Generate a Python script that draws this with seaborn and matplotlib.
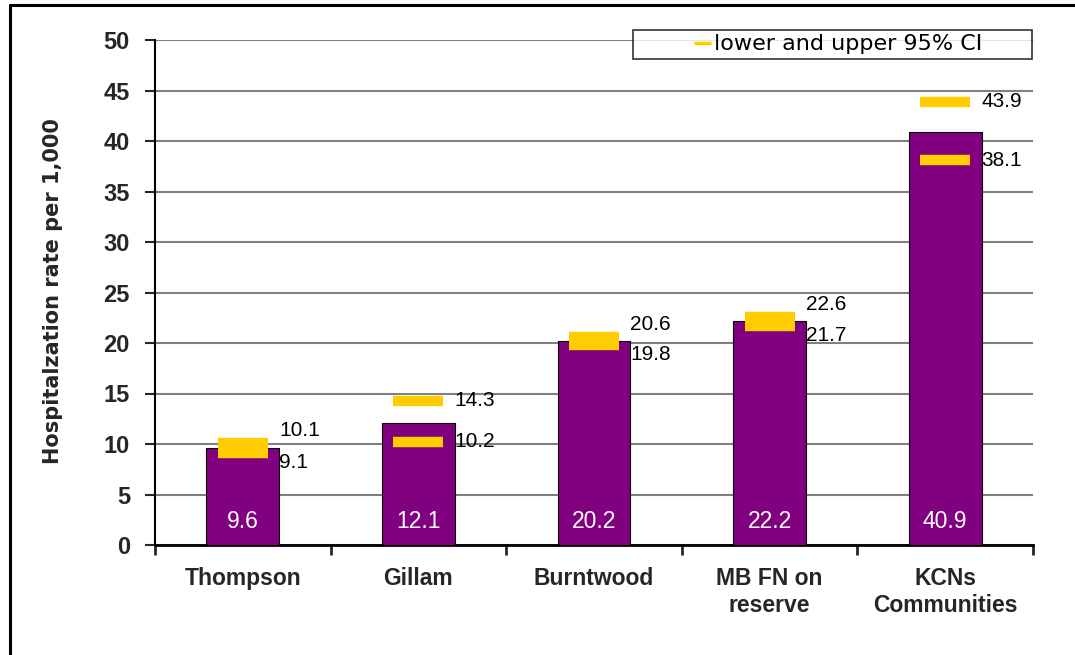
import matplotlib
matplotlib.use("Agg")
import matplotlib.pyplot as plt
import seaborn as sns
import pandas as pd
from matplotlib.lines import Line2D
from matplotlib.legend_handler import HandlerBase

# ---- data ----
categories = ["Thompson", "Gillam", "Burntwood", "MB FN on\nreserve", "KCNs\nCommunities"]
rates = [9.6, 12.1, 20.2, 22.2, 40.9]
ci_lower = [9.1, 10.2, 19.8, 21.7, 38.1]
ci_upper = [10.1, 14.3, 20.6, 22.6, 43.9]
y_ticks = [0, 5, 10, 15, 20, 25, 30, 35, 40, 45, 50]
y_label = "Hospitalzation rate per 1,000"
legend_label = "lower and upper 95% CI"

df = pd.DataFrame({"community": categories, "rate": rates})

sns.set_style("white")
plt.rcParams["font.family"] = ["DejaVu Sans"]
lib = ["Liberation Sans", "DejaVu Sans"]

PURPLE = "#800080"
GOLD = "#FFCC00"

fig = plt.figure(figsize=(10.75, 6.55), dpi=100)
ax = fig.add_axes([155/1075, 110/655, 878/1075, 505/655])

sns.barplot(data=df, x="community", y="rate", color=PURPLE, saturation=1,
            width=0.415, edgecolor="black", linewidth=0.8, ax=ax, zorder=3)

xpos = list(range(len(categories)))
ax.plot(xpos, ci_upper, linestyle="none", marker="_", ms=36, mew=7.5,
        color=GOLD, zorder=4)
ax.plot(xpos, ci_lower, linestyle="none", marker="_", ms=36, mew=7.5,
        color=GOLD, zorder=4)

# CI value labels
for i, (lo, hi) in enumerate(zip(ci_lower, ci_upper)):
    close = (hi - lo) < 1.5
    ax.annotate(f"{hi:.1f}", (i, hi), xytext=(26, 2 if close else 0),
                textcoords="offset points", ha="left",
                va="bottom" if close else "center",
                fontsize=15, family=lib, color="black", zorder=5)
    ax.annotate(f"{lo:.1f}", (i, lo), xytext=(26, 0), textcoords="offset points",
                ha="left", va="top" if close else "center",
                fontsize=15, family=lib, color="black", zorder=5)

# bar value labels
for i, v in enumerate(rates):
    ax.annotate(f"{v:.1f}", (i, 0), xytext=(0, 12), textcoords="offset points",
                ha="center", va="baseline", color="white", fontsize=16.5,
                family=lib, zorder=5)

ax.set_ylim(0, 50)
ax.set_xlim(-0.5, len(categories) - 0.5)
ax.set_yticks(y_ticks)
ax.yaxis.grid(True, color="#808080", linewidth=1.5, zorder=0)
ax.set_axisbelow(True)

for s in ["top", "right"]:
    ax.spines[s].set_visible(False)
ax.spines["left"].set_linewidth(1.5)
ax.spines["bottom"].set_linewidth(2)
ax.spines["left"].set_color("black")
ax.spines["bottom"].set_color("black")

ax.tick_params(axis="y", direction="out", length=7, width=1.5, pad=11, left=True)
for t in ax.get_yticklabels():
    t.set_fontfamily(lib)
    t.set_fontweight("bold")
    t.set_fontsize(17)

ax.set_xticks(xpos)
ax.set_xticklabels(categories, linespacing=1.2)
ax.set_xticks([p - 0.5 for p in xpos] + [len(categories) - 0.5], minor=True)
ax.tick_params(axis="x", which="major", length=0, pad=16)
ax.tick_params(axis="x", which="minor", direction="out", length=7, width=2, bottom=True)
for t in ax.get_xticklabels():
    t.set_fontfamily(lib)
    t.set_fontweight("bold")
    t.set_fontsize(16.5)
    t.set_verticalalignment("top")
ax.set_xlabel("")

ax.set_ylabel(y_label, fontsize=15, fontweight="bold", family=["DejaVu Sans"])
ax.yaxis.set_label_coords(-0.105, 0.503)


class RightDash(HandlerBase):
    def create_artists(self, legend, orig_handle, xdescent, ydescent, width,
                       height, fontsize, trans):
        y = height / 2 - ydescent
        x1 = width - xdescent
        x0 = x1 - 0.75 * fontsize
        ln = Line2D([x0, x1], [y, y], color=orig_handle.get_color(),
                    lw=orig_handle.get_linewidth(), solid_capstyle="butt",
                    transform=trans)
        return [ln]


handle = Line2D([], [], color=GOLD, lw=2.5)
leg = ax.legend([handle], [legend_label], handler_map={Line2D: RightDash()},
                loc="upper left", mode="expand",
                bbox_to_anchor=((633-155)/878, (545-64)/505, (1032-633)/878, 34/505),
                fontsize=16, frameon=True, fancybox=False, borderpad=0.2,
                handlelength=3.3, handletextpad=0.15, borderaxespad=0)
leg.get_frame().set_edgecolor("black")
leg.get_frame().set_linewidth(1.2)
for t in leg.get_texts():
    t.set_color("black")

# outer chart frame (top and left edges)
fig.add_artist(Line2D([9.5/1075, 9.5/1075], [0, 1 - 4.5/655], color="black", lw=2.2,
                      transform=fig.transFigure))
fig.add_artist(Line2D([9.5/1075, 1], [1 - 4.5/655, 1 - 4.5/655], color="black", lw=2.2,
                      transform=fig.transFigure))

fig.savefig("out.png", dpi=100)
